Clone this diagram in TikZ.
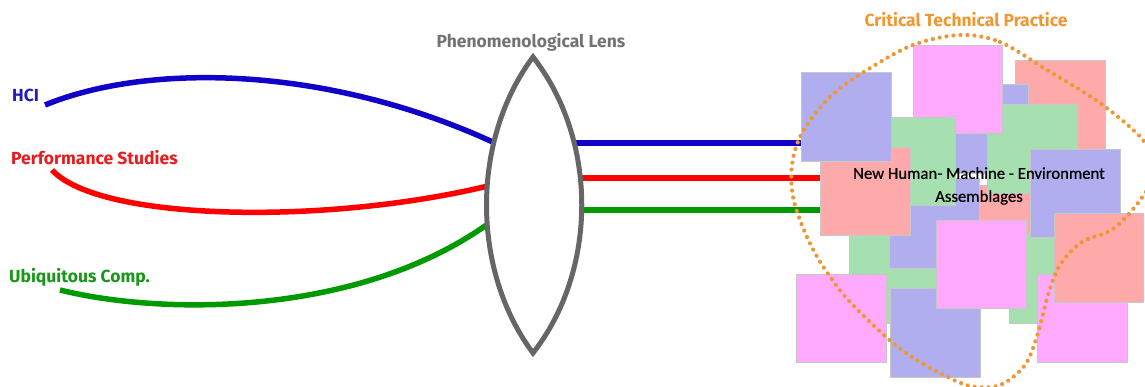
\documentclass[tikz,border=0pt]{standalone}
\usepackage{fontspec}
\setmainfont{Fira Sans}
\newfontfamily\bodyfont[FakeBold=0.6]{Carlito}
\definecolor{lblue}{RGB}{16,0,200}
\definecolor{lred}{RGB}{255,0,0}
\definecolor{lgreen}{RGB}{0,153,0}
\definecolor{tblue}{RGB}{36,30,180}
\definecolor{tred}{RGB}{232,28,30}
\definecolor{tgreen}{RGB}{24,150,24}
\definecolor{lensgray}{RGB}{102,102,102}
\definecolor{tgray}{RGB}{115,115,115}
\definecolor{ctporange}{RGB}{240,150,50}
\definecolor{sqblue}{RGB}{176,174,238}
\definecolor{sqpink}{RGB}{255,170,255}
\definecolor{sqsalmon}{RGB}{255,170,170}
\definecolor{sqgreen}{RGB}{166,224,176}
\begin{document}
\begin{tikzpicture}[x=1pt,y=-1pt,
  lbl/.style={font=\fontsize{17.5}{20}\selectfont\bfseries, inner sep=0pt},
  curve/.style={line width=5.5pt},
  sq/.style={draw=black!22, line width=0.8pt},
  bsq/.style={sq, fill=sqblue},
  psq/.style={sq, fill=sqpink},
  ssq/.style={sq, fill=sqsalmon},
  gsq/.style={sq, fill=sqgreen},
  lens/.style={draw=lensgray, line width=5pt, fill=white, line join=miter},
  ctp/.style={draw=ctporange, line width=4.2pt, line cap=round, dash pattern=on 0pt off 7pt}]
\useasboundingbox (0,0) rectangle (1145,387);

% labels
\node[lbl, text=tblue, anchor=west] (hci) at (12,95) {HCI};
\node[lbl, text=tred, anchor=west] (perf) at (11,158) {Performance Studies};
\node[lbl, text=tgreen, anchor=west] (ubi) at (9,277) {Ubiquitous Comp.};
\node[lbl, text=tgray] (lenslbl) at (531,42) {Phenomenological Lens};
\node[lbl, text=ctporange] (ctplbl) at (966,20) {Critical Technical Practice};

% coordinates
\coordinate (hciS) at (45,105);
\coordinate (hciE) at (497,144);
\coordinate (perfS) at (52,170);
\coordinate (perfE) at (492,185);
\coordinate (ubiS) at (60,290);
\coordinate (ubiE) at (492,221);
\coordinate (lensT) at (533,57);
\coordinate (lensB) at (533,353);
\coordinate (outB) at (560,143);
\coordinate (outR) at (560,178);
\coordinate (outG) at (560,210);
\coordinate (inB) at (801,143);
\coordinate (inR) at (820,178);
\coordinate (inG) at (820,210);

% incoming curves
\draw[curve, lblue] (hciS) .. controls (150,62) and (330,66) .. (hciE);
\draw[curve, lred] (perfS) .. controls (100,222) and (330,225) .. (perfE);
\draw[curve, lgreen] (ubiS) .. controls (160,315) and (360,318) .. (ubiE);

% outgoing lines
\draw[curve, lblue] (outB) -- (inB);
\draw[curve, lred] (outR) -- (inR);
\draw[curve, lgreen] (outG) -- (inG);

% lens
\path[lens] (lensT) .. controls (471,140) and (471,270) .. (lensB)
  .. controls (598,270) and (598,140) .. (lensT) -- cycle;

% collage of squares (back to front)
\path[ssq] (1015,60) rectangle ++(90,89);
\path[bsq] (938,84) rectangle ++(90,89);
\path[ssq] (979,185) rectangle ++(90,89);
\path[gsq] (987,104) rectangle ++(90,89);
\path[psq] (913,45) rectangle ++(89,88);
\path[gsq] (849,234) rectangle ++(90,89);
\path[bsq] (889,178) rectangle ++(90,90);
\path[gsq] (867,117) rectangle ++(88,88);
\path[ssq] (820,147) rectangle ++(90,88);
\path[bsq] (801,72) rectangle ++(90,89);
\path[gsq] (1009,234) rectangle ++(90,89);
\path[bsq] (1030,149) rectangle ++(90,88);
\path[bsq] (890,288) rectangle ++(90,89);
\path[psq] (936,220) rectangle ++(90,88);
\path[psq] (1037,274) rectangle ++(90,88);
\path[ssq] (1054,213) rectangle ++(89,89);
\path[psq] (796,274) rectangle ++(90,88);

% text of the assemblage
\node[font=\bodyfont\fontsize{16.7}{23}\selectfont, align=center, inner sep=0pt] (nhme) at (979,186)
  {New Human- Machine - Environment\\Assemblages};

% critical technical practice boundary
\draw[ctp] plot[smooth cycle, tension=0.55] coordinates {
  (960,35) (1000,42) (1047,70) (1100,103) (1143,140) (1155,170) (1141,199)
  (1113,229) (1082,242) (1060,265) (1048,295) (1038,333) (1025,365) (1000,385)
  (970,386) (938,372) (903,351) (871,323) (843,294) (819,260) (804,230)
  (793,197) (792,165) (802,133) (830,97) (867,70) (913,45)};
\end{tikzpicture}
\end{document}
